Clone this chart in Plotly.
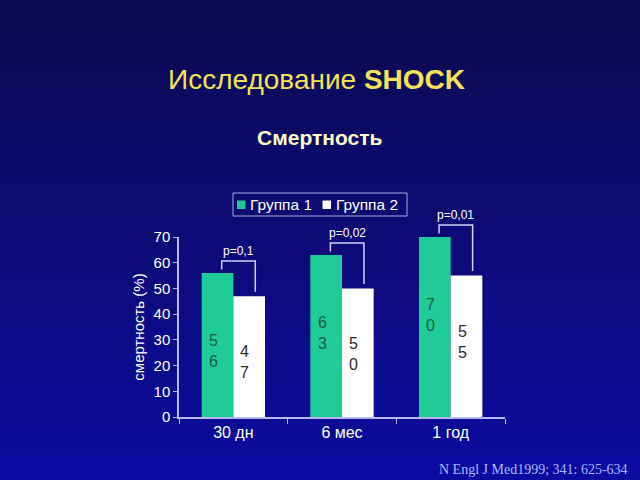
import plotly.graph_objects as go

categories = ["30 дн", "6 мес", "1 год"]
series_names = ["Группа 1", "Группа 2"]
group1 = [56, 63, 70]
group2 = [47, 50, 55]
p_values = ["p=0,1", "p=0,02", "p=0,01"]
y_ticks = [0, 10, 20, 30, 40, 50, 60, 70]

GREEN = "#1fcc98"
WHITE = "#ffffff"
AXIS = "#b8b8f0"
FONT = "Liberation Sans, Arial, sans-serif"

W, H = 640, 480
ML, MR, MT, MB = 179, 135, 237, 63
PW, PH = W - ML - MR, H - MT - MB
YMAX = 70


def px_to_paper_x(px):
    return (px - ML) / PW


def px_to_paper_y(py):
    return (H - MB - py) / PH


fig = go.Figure()
fig.add_trace(go.Bar(x=categories, y=group1, name=series_names[0],
                     marker=dict(color=GREEN, line=dict(width=0)), showlegend=False))
fig.add_trace(go.Bar(x=categories, y=group2, name=series_names[1],
                     marker=dict(color=WHITE, line=dict(width=0)), showlegend=False))

shapes = []
# background gradient
N = 60
top = (13, 11, 78)
bot = (11, 11, 160)
for k in range(N):
    t = k / (N - 1)
    c = tuple(int(round(top[j] + (bot[j] - top[j]) * t)) for j in range(3))
    y0 = k * H / N
    y1 = (k + 1) * H / N + 1
    shapes.append(dict(type="rect", xref="paper", yref="paper", layer="below",
                       x0=px_to_paper_x(-2), x1=px_to_paper_x(W + 2),
                       y0=px_to_paper_y(y0), y1=px_to_paper_y(min(y1, H + 2)),
                       line=dict(width=0), fillcolor="rgb(%d,%d,%d)" % c))

annotations = []
bar_off = 0.1457
for i, cat in enumerate(categories):
    v1, v2 = group1[i], group2[i]
    # value labels, stacked digits
    annotations.append(dict(x=cat, y=v1, xref="x", yref="y", text="<br>".join(str(v1)),
                            showarrow=False, yanchor="top", yshift=-57, xshift=-bar_off * PW / 3 - 4,
                            font=dict(family=FONT, size=16, color="#1b5e44")))
    annotations.append(dict(x=cat, y=v2, xref="x", yref="y", text="<br>".join(str(v2)),
                            showarrow=False, yanchor="top", yshift=-45, xshift=bar_off * PW / 3 - 4.5,
                            font=dict(family=FONT, size=16, color="#2a2a2a")))
    # bracket
    xl = (i + 0.5 - 0.107) / 3
    xr = (i + 0.5 + 0.202) / 3
    ytop = v1 / YMAX + 12 / PH
    yl = v1 / YMAX + 3.5 / PH
    yr = v2 / YMAX + 4.5 / PH
    shapes.append(dict(type="path", xref="paper", yref="paper",
                       path="M %f %f L %f %f L %f %f L %f %f" % (xl, yl, xl, ytop, xr, ytop, xr, yr),
                       line=dict(color="#d0d0f4", width=1.5)))
    annotations.append(dict(x=(xl + xr) / 2, y=ytop + 10 / PH, xref="paper", yref="paper",
                            text=p_values[i], showarrow=False, yanchor="middle", xanchor="center",
                            font=dict(family=FONT, size=12, color=WHITE)))

# legend (manual)
shapes.append(dict(type="rect", xref="paper", yref="paper",
                   x0=px_to_paper_x(233), x1=px_to_paper_x(407),
                   y0=px_to_paper_y(216), y1=px_to_paper_y(193),
                   line=dict(color="#a8a8e0", width=1)))
shapes.append(dict(type="rect", xref="paper", yref="paper",
                   x0=px_to_paper_x(237), x1=px_to_paper_x(245.5),
                   y0=px_to_paper_y(209), y1=px_to_paper_y(200.5),
                   line=dict(width=0), fillcolor=GREEN))
shapes.append(dict(type="rect", xref="paper", yref="paper",
                   x0=px_to_paper_x(322.5), x1=px_to_paper_x(331),
                   y0=px_to_paper_y(209), y1=px_to_paper_y(200.5),
                   line=dict(width=0), fillcolor=WHITE))
annotations.append(dict(x=px_to_paper_x(248), y=px_to_paper_y(204.5), xref="paper", yref="paper",
                        text=series_names[0], showarrow=False, xanchor="left", yanchor="middle",
                        font=dict(family=FONT, size=15.5, color=WHITE)))
annotations.append(dict(x=px_to_paper_x(334), y=px_to_paper_y(204.5), xref="paper", yref="paper",
                        text=series_names[1], showarrow=False, xanchor="left", yanchor="middle",
                        font=dict(family=FONT, size=15.5, color=WHITE)))

# titles
annotations.append(dict(x=px_to_paper_x(316), y=px_to_paper_y(79), xref="paper", yref="paper",
                        text="Исследование <b>SHOCK</b>", showarrow=False,
                        xanchor="center", yanchor="middle",
                        font=dict(family=FONT, size=28, color="#f2e35a")))
annotations.append(dict(x=px_to_paper_x(319), y=px_to_paper_y(137), xref="paper", yref="paper",
                        text="<b>Смертность</b>", showarrow=False,
                        xanchor="center", yanchor="middle",
                        font=dict(family=FONT, size=21, color="#fcfcc4")))
annotations.append(dict(x=px_to_paper_x(630), y=px_to_paper_y(469), xref="paper", yref="paper",
                        text="N Engl J Med1999; 341: 625-634", showarrow=False,
                        xanchor="right", yanchor="middle",
                        font=dict(family="Liberation Serif, Times New Roman, serif", size=14,
                                  color="#a9b9ff")))

fig.update_layout(
    width=W, height=H, autosize=False,
    margin=dict(l=ML, r=MR, t=MT, b=MB, pad=0),
    paper_bgcolor="#0b0b80", plot_bgcolor="rgba(0,0,0,0)",
    barmode="group", bargap=0.417, bargroupgap=0,
    shapes=shapes, annotations=annotations,
    showlegend=False,
    font=dict(family=FONT, color=WHITE),
    xaxis=dict(type="category", showgrid=False, zeroline=False, showline=True,
               linecolor=AXIS, linewidth=1.5, ticks="outside", tickson="boundaries",
               ticklen=5, tickcolor=AXIS, tickfont=dict(family=FONT, size=16, color=WHITE),
               range=[-0.5, 2.5]),
    yaxis=dict(range=[0, YMAX], tickvals=y_ticks, showgrid=False, zeroline=False,
               showline=True, linecolor=AXIS, linewidth=1.5, ticks="outside",
               ticklen=4, tickcolor=AXIS, tickfont=dict(family=FONT, size=15, color=WHITE),
               title=dict(text="смертность (%)", standoff=5,
                          font=dict(family=FONT, size=15, color=WHITE))),
)

fig.write_html("out.html")
